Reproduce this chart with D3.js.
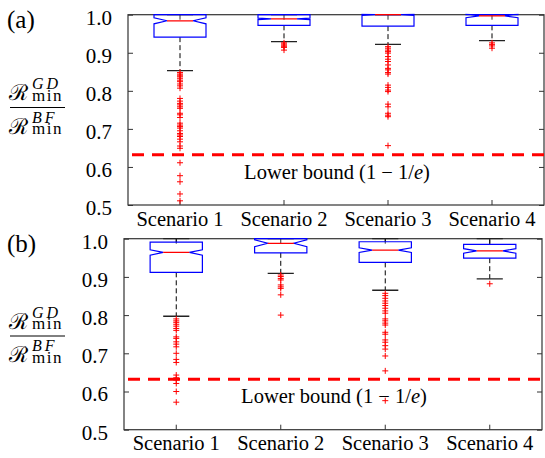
<!DOCTYPE html>
<html>
<head>
<meta charset="utf-8">
<script src="https://cdn.jsdelivr.net/npm/d3@7"></script>
<style>
  html, body { margin: 0; padding: 0; background: #fff; }
  svg { display: block; }
  text { font-family: "Liberation Serif", "Times New Roman", serif; fill: #000; }
</style>
</head>
<body>
<svg id="chart" width="545" height="458"></svg>
<script>
// Categories and axis ticks
const scenarios = ["Scenario 1", "Scenario 2", "Scenario 3", "Scenario 4"];
const yTicks = [0.5, 0.6, 0.7, 0.8, 0.9, 1.0];
const lowerBound = 1 - 1 / Math.E;

// Panel (a): box statistics per scenario
const q1A = [0.941, 0.972, 0.970, 0.972];
const medA = [0.984, 0.989, 1.000, 0.997];
const q3A = [1.000, 1.000, 1.000, 1.000];
const notchA = [0.008, 0.002, 0.002, 0.005];
const whiskLoA = [0.853, 0.929, 0.922, 0.932];
const whiskHiA = [1.000, 1.000, 1.000, 1.000];
const outliersA = [
  [0.848, 0.844, 0.841, 0.837, 0.833, 0.828, 0.824, 0.818, 0.813, 0.807,
   0.780, 0.773, 0.767, 0.763, 0.758, 0.754, 0.741, 0.737, 0.730, 0.715,
   0.710, 0.706, 0.702, 0.695, 0.688, 0.684, 0.680, 0.673, 0.666, 0.655,
   0.649, 0.611, 0.577, 0.561, 0.529, 0.511],
  [0.926, 0.923, 0.920, 0.917, 0.914, 0.907],
  [0.916, 0.912, 0.907, 0.903, 0.899, 0.890, 0.883, 0.877, 0.868, 0.859,
   0.855, 0.848, 0.844, 0.815, 0.809, 0.802, 0.798, 0.765, 0.758, 0.741,
   0.736, 0.732, 0.656],
  [0.926, 0.922, 0.918, 0.912]
];

// Panel (b): box statistics per scenario
const q1B = [0.912, 0.963, 0.938, 0.949];
const medB = [0.964, 0.988, 0.970, 0.968];
const q3B = [0.991, 1.000, 0.992, 0.985];
const notchB = [0.007, 0.009, 0.006, 0.006];
const whiskLoB = [0.797, 0.909, 0.865, 0.895];
const whiskHiB = [1.000, 1.000, 1.000, 1.000];
const outliersB = [
  [0.790, 0.785, 0.781, 0.776, 0.771, 0.765, 0.760, 0.743, 0.739, 0.730,
   0.724, 0.717, 0.700, 0.684, 0.676, 0.643, 0.636, 0.630, 0.621, 0.600,
   0.572],
  [0.905, 0.901, 0.896, 0.892, 0.879, 0.874, 0.870, 0.853, 0.800],
  [0.857, 0.851, 0.844, 0.837, 0.831, 0.825, 0.818, 0.811, 0.805, 0.790,
   0.785, 0.779, 0.774, 0.755, 0.750, 0.735, 0.729, 0.720, 0.711, 0.693,
   0.654, 0.576],
  [0.882]
];

const svg = d3.select("#chart");
const axisColor = "#333";

function drawPanel(cfg) {
  const { left, right, top, bottom, tag, fracY, q1, med, q3, notch, lo, hi, outliers } = cfg;
  const g = svg.append("g");

  const y = d3.scaleLinear().domain([0.5, 1.0]).range([bottom, top]);
  const x = d3.scaleBand().domain(scenarios).range([left, right]).padding(0);
  const cx = s => x(s) + x.bandwidth() / 2;
  const halfW = x.bandwidth() * 0.25;   // box width = half the category step
  const capW = halfW / 2;

  const clipId = "clip-" + tag;
  svg.append("clipPath").attr("id", clipId)
    .append("rect").attr("x", left).attr("y", top - 1)
    .attr("width", right - left).attr("height", bottom - top + 1);

  // Axes (ticks pointing inward)
  const yLeft = g.append("g").attr("transform", `translate(${left},0)`)
    .call(d3.axisLeft(y).tickValues(yTicks).tickFormat(d3.format(".1f"))
      .tickSizeInner(-5).tickSizeOuter(0).tickPadding(16));
  yLeft.selectAll("text").attr("font-size", 21).attr("dy", "0.45em")
    .style("font-family", "'Liberation Serif', serif");
  g.append("g").attr("transform", `translate(${right},0)`)
    .call(d3.axisRight(y).tickValues(yTicks).tickFormat("")
      .tickSizeInner(-5).tickSizeOuter(0));
  const xBottom = g.append("g").attr("transform", `translate(0,${bottom})`)
    .call(d3.axisBottom(x).tickSizeInner(-5).tickSizeOuter(0).tickPadding(6));
  xBottom.selectAll("text").attr("font-size", 20.5)
    .style("font-family", "'Liberation Serif', serif");
  g.append("g").attr("transform", `translate(0,${top})`)
    .call(d3.axisTop(x).tickFormat("").tickSizeInner(-5).tickSizeOuter(0));
  g.selectAll(".domain").remove();
  g.selectAll(".tick line").attr("stroke", axisColor);
  g.append("rect").attr("x", left).attr("y", top)
    .attr("width", right - left).attr("height", bottom - top)
    .attr("fill", "none").attr("stroke", axisColor).attr("stroke-width", 1.2);

  const plot = g.append("g").attr("clip-path", `url(#${clipId})`);

  // Lower-bound reference line
  plot.append("line")
    .attr("x1", left).attr("x2", right)
    .attr("y1", y(lowerBound)).attr("y2", y(lowerBound))
    .attr("stroke", "#ff0000").attr("stroke-width", 3)
    .attr("stroke-dasharray", "12,8").attr("stroke-dashoffset", -4);

  scenarios.forEach((s, i) => {
    const c = cx(s);
    // Whiskers
    plot.append("line").attr("x1", c).attr("x2", c)
      .attr("y1", y(q1[i])).attr("y2", y(lo[i]))
      .attr("stroke", "#000").attr("stroke-dasharray", "5,3");
    plot.append("line").attr("x1", c).attr("x2", c)
      .attr("y1", y(q3[i])).attr("y2", y(hi[i]))
      .attr("stroke", "#000").attr("stroke-dasharray", "5,3");
    [lo[i], hi[i]].forEach(v => {
      plot.append("line").attr("x1", c - capW).attr("x2", c + capW)
        .attr("y1", y(v)).attr("y2", y(v))
        .attr("stroke", "#222").attr("stroke-width", 1.3);
    });

    // Notched box outline
    const nLo = med[i] - notch[i], nHi = med[i] + notch[i];
    const pts = [
      [c - halfW, y(q1[i])], [c - halfW, y(nLo)], [c - halfW / 2, y(med[i])],
      [c - halfW, y(nHi)], [c - halfW, y(q3[i])], [c + halfW, y(q3[i])],
      [c + halfW, y(nHi)], [c + halfW / 2, y(med[i])], [c + halfW, y(nLo)],
      [c + halfW, y(q1[i])]
    ];
    plot.append("path").attr("d", d3.line()(pts) + "Z")
      .attr("fill", "none").attr("stroke", "#0000ff").attr("stroke-width", 1.2);
    plot.append("line").attr("x1", c - halfW / 2).attr("x2", c + halfW / 2)
      .attr("y1", y(med[i])).attr("y2", y(med[i]))
      .attr("stroke", "#ff0000").attr("stroke-width", 1.2);

    // Outliers
    plot.selectAll(null).data(outliers[i]).enter().append("path")
      .attr("d", v => `M${c - 3},${y(v)}H${c + 3}M${c},${y(v) - 3}V${y(v) + 3}`)
      .attr("stroke", "#ff0000").attr("stroke-width", 1);
  });

  // Lower-bound label
  const lb = g.append("text")
    .attr("x", (left + right) / 2 + 1).attr("y", y(lowerBound) + 24)
    .attr("text-anchor", "middle").attr("font-size", 20.5);
  lb.append("tspan").text("Lower bound (1 \u2212 1/");
  lb.append("tspan").attr("font-style", "italic").text("e");
  lb.append("tspan").text(")");

  // Panel tag
  g.append("text").attr("x", 7).attr("y", top + 13)
    .attr("font-size", 25).text(`(${tag})`);

  // Y-axis label: ratio of the two minimum rates, R^GD_min / R^BF_min
  const lab = g.append("g");
  lab.append("line").attr("x1", 10).attr("x2", 65).attr("y1", fracY).attr("y2", fracY)
    .attr("stroke", "#000").attr("stroke-width", 1);
  [["GD", fracY - 7.5], ["BF", fracY + 26]].forEach(([sup, rBase]) => {
    const t = lab.append("text").attr("x", 9).attr("y", rBase);
    t.append("tspan").attr("font-size", 22)
      .style("font-family", "'DejaVu Serif', serif").text("\u211B");
    t.append("tspan").attr("x", 32).attr("dy", -11).attr("font-size", 16)
      .attr("font-style", "italic").attr("letter-spacing", 3).text(sup);
    t.append("tspan").attr("x", 32).attr("dy", 11.7).attr("font-size", 17)
      .attr("letter-spacing", 1.5).text("min");
  });
}

drawPanel({ left: 128, right: 544, top: 14.7, bottom: 205, tag: "a", fracY: 107.5,
  q1: q1A, med: medA, q3: q3A, notch: notchA, lo: whiskLoA, hi: whiskHiA, outliers: outliersA });
drawPanel({ left: 124, right: 542, top: 238.7, bottom: 429.7, tag: "b", fracY: 336,
  q1: q1B, med: medB, q3: q3B, notch: notchB, lo: whiskLoB, hi: whiskHiB, outliers: outliersB });
</script>
</body>
</html>
